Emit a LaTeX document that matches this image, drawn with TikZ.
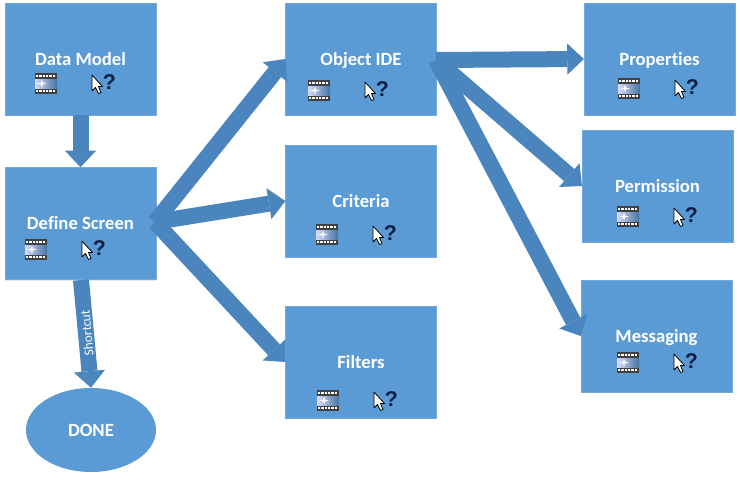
\documentclass[tikz,border=0pt]{standalone}
\usepackage{fontspec}
\setmainfont[Ligatures=NoCommon]{Carlito}
\newfontfamily\qfont{Liberation Sans}
\usetikzlibrary{arrows.meta,shapes.geometric,shadows}
\definecolor{boxblue}{HTML}{5B9BD5}
\definecolor{arrowblue}{HTML}{4A85BE}
\definecolor{qnavy}{HTML}{0B1F45}
\tikzset{
  boxnode/.style={rectangle,fill=boxblue,draw=boxblue!85!white,line width=0.4pt,
    minimum width=113pt,minimum height=84pt,inner sep=0pt,text=white,
    text height=12pt,text depth=3pt,
    font=\fontsize{14pt}{16pt}\selectfont\bfseries,
    drop shadow={shadow xshift=0pt,shadow yshift=-0.8pt,opacity=0.18}},
  donenode/.style={ellipse,fill=boxblue,minimum width=97.5pt,minimum height=63pt,inner sep=0pt,
    text=white,text height=10pt,text depth=1pt,font=\fontsize{14pt}{16pt}\selectfont\bfseries},
  flow/.style={draw=arrowblue,line width=12pt,-{Triangle[length=12.5pt,width=23.5pt,fill=arrowblue,line width=0pt]}},
  smalllabel/.style={text=white,font=\fontsize{10pt}{12pt}\selectfont,inner sep=0pt},
  qmark/.style={text=qnavy,anchor=north west,inner sep=0pt,font=\qfont\fontsize{16pt}{17pt}\selectfont\bfseries},
  pics/helpicons/.style={code={
    % film icon (origin at its top left); cursor sits 57 px to the right
    \fill[black!75] (0,0) rectangle (22,21);
    \shade[left color=blue!15!white,right color=boxblue!75!black] (0,6) rectangle (22,15);
    \foreach \i in {1,...,6} {
      \fill[white] ({\i*3.3-2.2},1.5) rectangle ++(2.3,2.6);
      \fill[white] ({\i*3.3-2.2},16.8) rectangle ++(2.3,2.6);
    }
    \fill[white,opacity=.9] (7,6.5) -- (8,9.5) -- (12,10.5) -- (8,11.5) -- (7,14.5) -- (6,11.5) -- (2,10.5) -- (6,9.5) -- cycle;
    \draw[black,fill=white,line width=0.6pt,line join=round]
      (57,2) -- (57,18) -- (60.5,14.5) -- (63.5,20.5) -- (66,19.5) -- (63.5,13.5) -- (67.5,13.5) -- cycle;
    \node[qmark] at (67.5,1.5) {?};
  }}
}
\begin{document}
\begin{tikzpicture}[x=0.75pt,y=-0.75pt]
\useasboundingbox (0,0) rectangle (740,482);
\fill[white] (0,0) rectangle (740,482);

\node[boxnode] (dm) at (80.5,59) {Data Model};
\node[boxnode] (ds) at (80.5,223.5) {Define Screen};
\node[boxnode] (obj) at (361,59) {Object IDE};
\node[boxnode] (crit) at (361,201) {Criteria};
\node[boxnode] (filt) at (361,362) {Filters};
\node[boxnode] (prop) at (659.5,59) {Properties};
\node[boxnode] (perm) at (657.5,186) {Permission};
\node[boxnode] (msg) at (656.5,336) {Messaging};
\node[donenode] (done) at (91,430) {DONE};

\coordinate (dsfan) at (155,222);
\coordinate (dsdown) at (81,280);
\coordinate (objfan) at (436,60);

\draw[flow] (dm.south) -- (ds.north);
\draw[flow] (dsfan) -- (obj.west);
\draw[flow] (dsfan) -- (crit.west);
\draw[flow] (dsfan) -- (filt.west);
\draw[flow] (dsdown) -- (done.north);
\draw[flow] (objfan) -- (prop.west);
\draw[flow] (objfan) -- (perm.west);
\draw[flow] (objfan) -- (msg.west);

\node[smalllabel,rotate=95] (sc) at (87,333) {Shortcut};

\pic at (35,73) {helpicons};
\pic at (25,239) {helpicons};
\pic at (308,80) {helpicons};
\pic at (316,224) {helpicons};
\pic at (317,390) {helpicons};
\pic at (618,78) {helpicons};
\pic at (617,206) {helpicons};
\pic at (617,352) {helpicons};
\end{tikzpicture}
\end{document}
